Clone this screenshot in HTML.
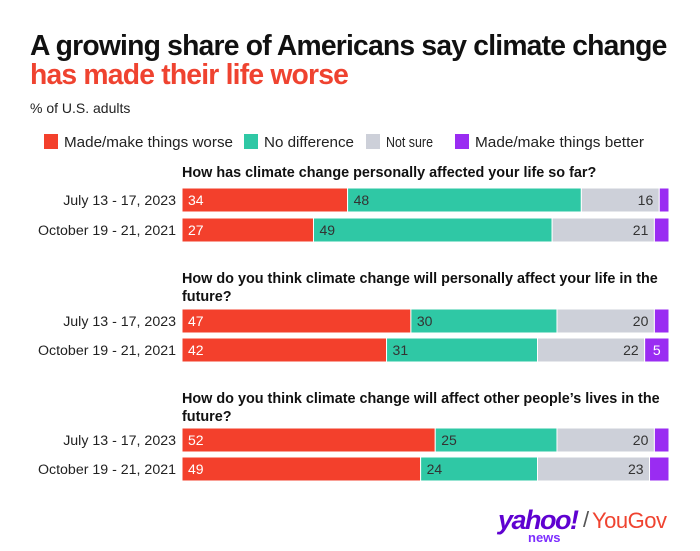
<!DOCTYPE html>
<html><head><meta charset="utf-8"><style>
body{margin:0;background:#fff;font-family:"Liberation Sans",sans-serif;}
#c{position:relative;width:700px;height:551px;overflow:hidden;}
.t{position:absolute;left:30px;font-weight:bold;font-size:28.3px;letter-spacing:-0.8px;white-space:nowrap;}
</style></head><body>
<div id="c">
<div class="t" style="top:29px;color:#111">A growing share of Americans say climate change</div>
<div class="t" style="top:58px;color:#ef4330">has made their life worse</div>
<div style="position:absolute;left:30px;top:100px;font-size:14px;color:#222">% of U.S. adults</div>
<svg id="s" width="700" height="551" style="position:absolute;left:0;top:0"></svg>
<div style="position:absolute;left:498px;top:505px;font-size:27px;font-weight:bold;color:#5f01d1;letter-spacing:-1.5px;font-style:italic">yahoo!</div>
<div style="position:absolute;left:528px;top:530px;font-size:13px;font-weight:bold;color:#7d2eff">news</div>
<div style="position:absolute;left:583px;top:507px;font-size:22px;color:#555">/</div>
<div style="position:absolute;left:592px;top:508px;font-size:22px;color:#ef4330;letter-spacing:-0.5px">YouGov</div>
</div>
<script>
const questions=["How has climate change personally affected your life so far?","How do you think climate change will personally affect your life in the future?","How do you think climate change will affect other people’s lives in the future?"];
const rowLabels=["July 13 - 17, 2023","October 19 - 21, 2021"];
const categories=["Made/make things worse","No difference","Not sure","Made/make things better"];
const worse=[34,27,47,42,52,49];
const noDiff=[48,49,30,31,25,24];
const notSure=[16,21,20,22,20,23];
const better=[2,3,3,5,3,4];
const colors=["#f3402c","#2fc8a5","#cdd0d9","#9a2cf2"];
const NS="http://www.w3.org/2000/svg";
const svg=document.getElementById('s');
const X0=182,W=487;
const x=v=>X0+v/100*W;
function mk(tag,at){const e=document.createElementNS(NS,tag);for(const k in at)e.setAttribute(k,at[k]);svg.appendChild(e);return e;}
const legX=[44,244,366,455];
const legW=[169,90,47,169];
categories.forEach((c,i)=>{
 const r=mk('rect',{x:legX[i],y:134,width:14,height:15,fill:colors[i]});
 
 
 const t=mk('text',{x:legX[i]+20,y:147,'font-size':14.5,fill:'#222',textLength:legW[i],lengthAdjust:'spacingAndGlyphs'});t.textContent=c;
 
 
});
const qY=[[172],[278,296],[398,416]];
const rowY=[188,218,309,338,428,457];
const qLines=[[questions[0]],["How do you think climate change will personally affect your life in the","future?"],["How do you think climate change will affect other people’s lives in the","future?"]];
qLines.forEach((ls,q)=>ls.forEach((l,j)=>{
 const t=mk('text',{x:182,y:qY[q][j]+5,'font-size':14.4,'font-weight':'bold',fill:'#111'});t.textContent=l;
 
 
}));
for(let i=0;i<6;i++){
 const y=rowY[i],h=24;
 const lab=mk('text',{x:176,y:y+17,'text-anchor':'end','font-size':14.2,fill:'#222'});lab.textContent=rowLabels[i%2];
 
 
 const vals=[worse[i],noDiff[i],notSure[i],better[i]];
 let acc=0;
 vals.forEach((v,k)=>{
  const r=mk('rect',{x:x(acc),y:y,width:x(acc+v)-x(acc),height:h,fill:colors[k],stroke:'#fff','stroke-width':1});
  
  
  if(k<3||v>=5){
   let tx,anchor='start';
   if(k==2){tx=x(acc+v)-6;anchor='end';}
   else if(k==3){tx=x(acc)+(x(acc+v)-x(acc))/2;anchor='middle';}
   else tx=x(acc)+6;
   const t=mk('text',{x:tx,y:y+17,'text-anchor':anchor,'font-size':14,fill:k==0?'#fff':k==3?'#fff':'#333'});t.textContent=v;
   
   
  }
  acc+=v;
 });
}
</script>
</body></html>
